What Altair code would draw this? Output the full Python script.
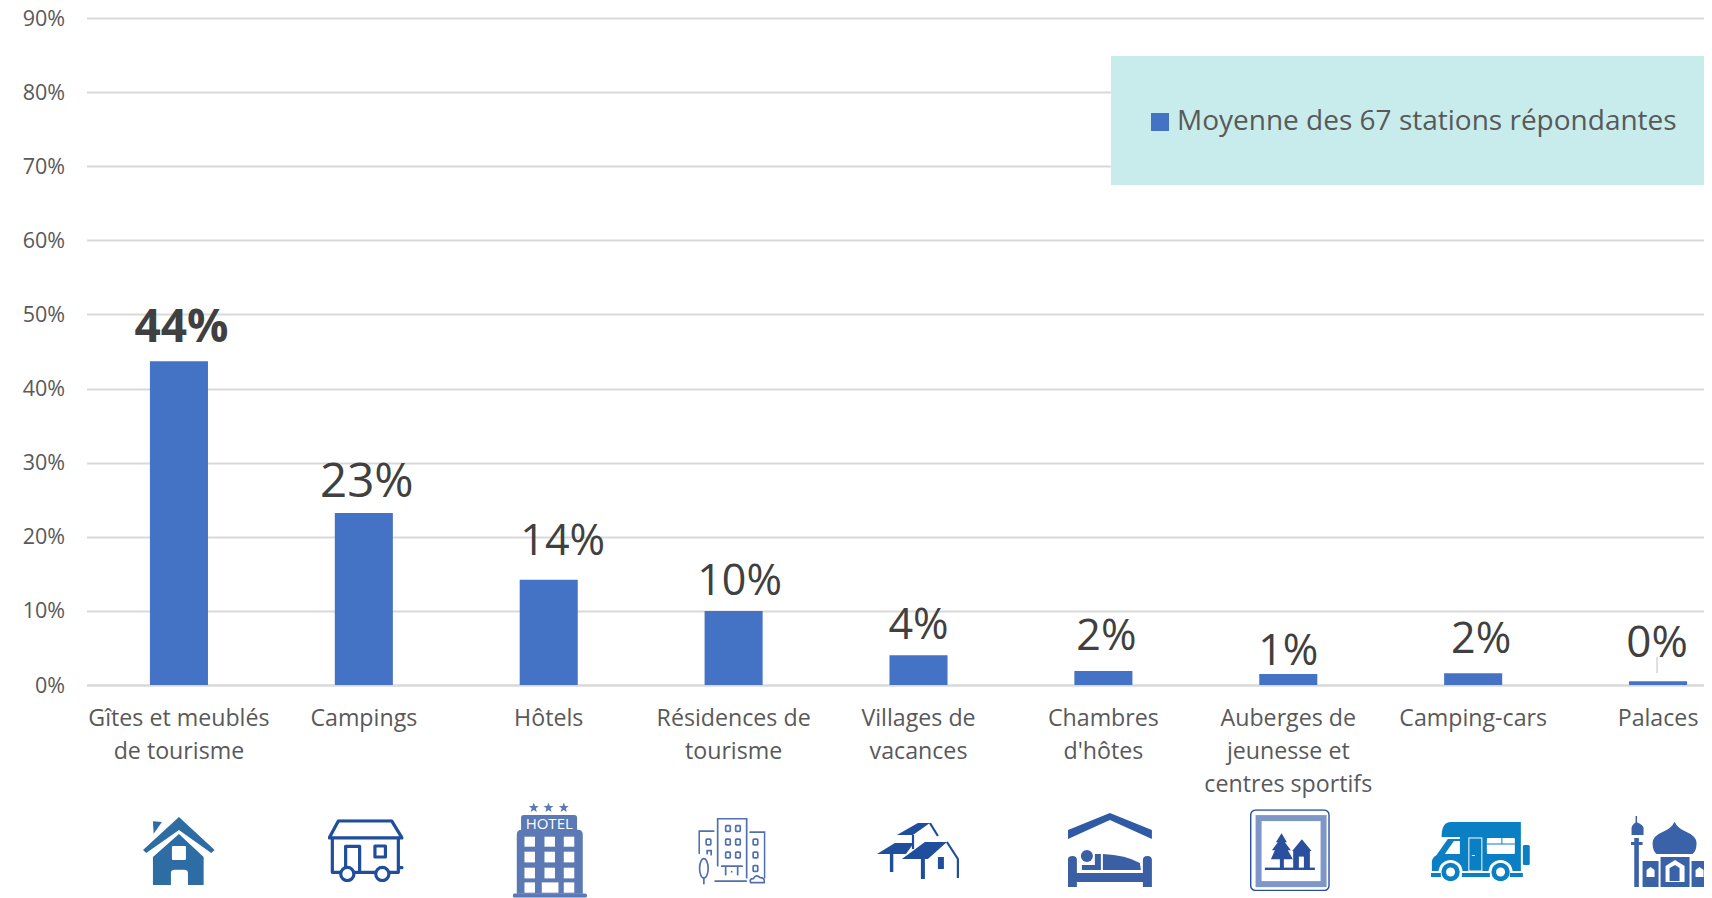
import base64
import math
import altair as alt
import pandas as pd

categories = ["Gîtes et meublés\nde tourisme", "Campings", "Hôtels", "Résidences de\ntourisme",
              "Villages de\nvacances", "Chambres\nd'hôtes", "Auberges de\njeunesse et\ncentres sportifs",
              "Camping-cars", "Palaces"]
values = [0.437, 0.232, 0.142, 0.100, 0.040, 0.019, 0.015, 0.016, 0.005]
value_labels = ["44%", "23%", "14%", "10%", "4%", "2%", "1%", "2%", "0%"]
label_dx = [2.5, 3, 14, 6, 0, 3, 0, 8, -1]
label_dy = [-33, -30, -38, -29, -29, -34, -22, -33, -37]
label_sizes = [46, 47.5, 43, 43, 43, 43, 43, 43, 44]
label_weights = ["bold"] + ["normal"] * 8
series_name = "Moyenne des 67 stations répondantes"
y_ticks = [0, 0.1, 0.2, 0.3, 0.4, 0.5, 0.6, 0.7, 0.8, 0.9]
leader_low = 0.016
leader_high = 0.038

FONT = "Open Sans"
GRID = "#d9d9d9"


def svg(w, h, body):
    s = f'<svg xmlns="http://www.w3.org/2000/svg" width="{w}" height="{h}" viewBox="0 0 {w} {h}">{body}</svg>'
    return "data:image/svg+xml;base64," + base64.b64encode(s.encode()).decode()


house = svg(72, 68, """
<g fill="#2e6da4">
<polygon points="10,4.3 19,5 10.7,16.7"/>
<polygon points="36,0 71.7,33 68.3,36 36,13 3.3,36 0,33"/>
<path d="M10,40 L36,17 L60.7,40 V68 H45 V56 Q45,52.7 41,52.7 H32 Q28,52.7 28,56 V68 H10 Z"/></g>
<rect x="29" y="29" width="14" height="14" rx="1" fill="#fff"/>""")

caravan = svg(76, 63, """
<g fill="none" stroke="#1f4e9c" stroke-width="3.2" stroke-linejoin="round" stroke-linecap="round">
<path d="M10.7,1.6 H64 L74.4,18.6 H1.6 Z"/>
<path d="M4.7,19 V53 H13 M26,53 H47.5 M62,53 H70.7 V19"/>
<path d="M18,48 V27 H32 V52"/>
<rect x="47.3" y="26.7" width="10.5" height="11"/>
<circle cx="19.7" cy="54.7" r="6.6"/><circle cx="54.7" cy="54.7" r="6.6"/>
<path d="M71,48.3 H74.5"/></g>""")


def star(cx, cy, r=5.2):
    pts = []
    for i in range(10):
        a = -math.pi / 2 + i * math.pi / 5
        q = r if i % 2 == 0 else r * 0.42
        pts.append(f"{cx + q * math.cos(a):.2f},{cy + q * math.sin(a):.2f}")
    return f'<polygon points="{" ".join(pts)}" fill="#5b79b4"/>'


hotel_rows = [(34, 10), (49, 10.7), (65, 10.7), (79.7, 10.3)]
hotel_windows = "".join(
    f'<rect x="{x}" y="{y}" width="{10.5}" height="{h}" fill="#fff"/>'
    for y, h in hotel_rows[:3] for x in (11.7, 31.7, 51))
hotel_windows += ('<rect x="11.7" y="79.7" width="10.5" height="10.3" fill="#fff"/>'
                  '<rect x="29" y="79.7" width="16.7" height="10.3" fill="#fff"/>'
                  '<rect x="51" y="79.7" width="10.5" height="10.3" fill="#fff"/>')
hotel = svg(74.3, 95, star(21, 5) + star(35.7, 5) + star(51, 5) + """
<path d="M8.3,28 V15 Q8.3,12.3 11,12.3 H61.6 Q64.3,12.3 64.3,15 V28 Z" fill="#5b79b4"/>
<path d="M4,91 V32 Q4,27 9,27 H65 Q70,27 70,32 V91 Z" fill="#5b79b4"/>
<rect x="0" y="90.7" width="74.3" height="4.3" rx="2" fill="#5b79b4"/>""" + hotel_windows)

res_windows = "".join(
    f'<rect x="{x}" y="{y}" width="4.6" height="5.6" rx="0.8"/>'
    for x, y in ((27.5, 8), (37.5, 8), (27.5, 21.5), (37.5, 21.5), (27.5, 34.5), (37.5, 34.5),
                 (8, 21.5), (55, 21.5), (55, 34.5), (55, 48)))
residence = svg(67.5, 67, f"""
<g fill="none" stroke="#5070b0" stroke-width="1.7" stroke-linecap="round">
<path d="M19.5,48 V1 H48.5 V60"/>
<path d="M15.5,13.5 H1 V35.5 M52,14.5 H66.5 V60"/>
<path d="M9,36 V33 H13 V37"/>
<path d="M23.5,48.5 H44 M27.5,48.5 V57 M39.5,48.5 V57"/>
<path d="M17,63.5 H48"/>
<ellipse cx="5.7" cy="50.7" rx="4.3" ry="9.7"/><path d="M5.7,60 V66"/>
<path d="M52.5,65 Q51,61 55,61 Q58,56 62,60 Q67,60 66,65 Z"/>
{res_windows}</g><circle cx="33.5" cy="54" r="0.9" fill="#5070b0"/>""")

village = svg(82, 56, """
<g fill="#1f4e9c">
<polygon points="20,12 41,0 53,0 36,12"/>
<polygon points="0,31 18,20 37,20 29,31"/>
<rect x="13" y="28" width="3.4" height="21"/>
<polygon points="25,36 48,19 70,19 51,36"/>
<rect x="44" y="36" width="4" height="20"/>
<rect x="61" y="34" width="6" height="12"/>
<rect x="35" y="12" width="2.2" height="14"/></g>
<path d="M53,0 L61,13 M70,19 L81,36 V55" fill="none" stroke="#1f4e9c" stroke-width="2.2"/>""")

bed = svg(84, 75, """
<polygon points="0,17 42,0 84,17 84,26 42,7 0,26" fill="#2f5aa5"/>
<g fill="#3a5fa5">
<path d="M0,74 V47 Q0,43 4.5,43 Q9,43 9,47 V60 H75 V47 Q75,43 79.5,43 Q84,43 84,47 V74 H75 V69 H9 V74 Z"/>
<circle cx="19" cy="43" r="6"/>
<polygon points="14,52 27,52 27,41 33,41 33,57 14,57"/>
<path d="M35,41 Q58,42 72,50 L73,57 H35 Z"/></g>""")

sign = svg(80, 82, """
<rect x="0.8" y="0.8" width="78.4" height="80.4" rx="5" fill="#fff" stroke="#2a4f9f" stroke-width="1.5"/>
<rect x="8.7" y="8.8" width="65" height="66" fill="none" stroke="#7e97c8" stroke-width="6"/>
<g fill="#2a4f9f">
<polygon points="31.7,24 37,33 35,33 41,41 38,41 43,50 34,50 34,59 30,59 30,50 21,50 25,41 22,41 28,33 26,33"/>
<polygon points="52,30 61.7,41.7 60,41.7 60,59 43.3,59 43.3,41.7 42.3,41.7"/>
<rect x="15" y="58.3" width="50" height="2.4"/></g>
<rect x="49" y="47.3" width="5" height="11" fill="#fff"/>""")

camper = svg(99, 59, """
<g fill="#0a7fc4">
<path d="M10.7,15 Q10.7,0 20,0 H90 V49 H1 V40 Q1,36 5.7,33 L17,17 H29 V15 Z"/>
<rect x="92" y="23" width="7" height="20" rx="1.5"/></g>
<polygon points="14,32 23,19 29,19 29,32" fill="#fff"/>
<rect x="38" y="16" width="13" height="33" fill="none" stroke="#fff" stroke-width="1"/>
<rect x="41" y="33" width="3" height="1" fill="#fff"/>
<rect x="56" y="16" width="28" height="16" rx="1" fill="#fff"/>
<rect x="70.5" y="16" width="1" height="6" fill="#0a7fc4"/><rect x="56" y="21.5" width="28" height="1" fill="#0a7fc4"/>
<circle cx="19.7" cy="50" r="12" fill="#fff"/><circle cx="69.7" cy="50" r="12" fill="#fff"/>
<rect x="0" y="49" width="99" height="10" fill="#fff"/>
<circle cx="19.7" cy="50" r="9.2" fill="#0a7fc4"/><circle cx="69.7" cy="50" r="9.2" fill="#0a7fc4"/>
<circle cx="19.7" cy="50" r="4.5" fill="#fff"/><circle cx="69.7" cy="50" r="4.5" fill="#fff"/>
<g fill="#0a7fc4"><rect x="0" y="51" width="10" height="4"/><rect x="31" y="51" width="28" height="4"/><rect x="79" y="51" width="13" height="4"/></g>""")

palace = svg(88, 71, """
<g fill="#3a62a8">
<path d="M44,5.7 Q47,12 54,15 Q66,20 66,27 Q66,35 62,38 H26 Q22,35 22,27 Q22,20 34,15 Q41,12 44,5.7 Z"/>
<rect x="5" y="0" width="1.5" height="8"/><path d="M1,19 V12 Q1,9 5.7,6 Q13,9 13,12 V19 Z"/>
<rect x="3.7" y="22" width="4.6" height="49"/><rect x="0" y="26" width="12" height="3"/>
<rect x="81.5" y="0" width="1.5" height="8"/><path d="M75,19 V12 Q75,9 82.3,6 Q87,9 87,12 V19 Z"/>
<rect x="79.7" y="22" width="4.6" height="49"/><rect x="76" y="26" width="12" height="3"/>
<rect x="30" y="41" width="29" height="30"/>
<rect x="12" y="45" width="16" height="26"/><rect x="61" y="45" width="16" height="26"/></g>
<g fill="#fff">
<path d="M16,61 V54 L20,51 L24,54 V61 Z"/><path d="M65,61 V54 L69,51 L73,54 V61 Z"/>
<path d="M35,66 V50 L44.5,44 L54,50 V66 Z"/></g>
<path d="M39,65 V52 L44.5,49 L49,52 V65 Z" fill="#3a62a8"/>""")

icons = [house, caravan, hotel, residence, village, bed, sign, camper, palace]
icon_w = [72, 76, 74.3, 67.5, 82, 84, 80, 99, 88]
icon_h = [68, 63, 95, 67, 56, 75, 82, 59, 71]
icon_cx = [179, 365.7, 550, 732, 918, 1110, 1290, 1480.5, 1674.7]
icon_top = [817, 819.3, 802.7, 817.7, 823, 813, 809.3, 822, 816]
band_cx = [179 + 184.9 * i for i in range(9)]
icon_dx = [c - b for c, b in zip(icon_cx, band_cx)]

PLOT_LEFT, PLOT_TOP = 86.5, 18

df = pd.DataFrame({"cat": categories, "v": values, "lab": value_labels, "series": series_name,
                   "icon": icons})

x_enc = alt.X("cat:N", sort=categories, title=None,
              scale=alt.Scale(paddingInner=0.686, paddingOuter=0.343, range=[0, 1664]),
              axis=alt.Axis(labelExpr="split(datum.label, '\\n')", labelAngle=0, labelFont=FONT,
                            labelFontSize=23.2, labelColor="#595959", labelPadding=22, labelLineHeight=33,
                            labelBaseline="top", labelLimit=400, labelOverlap=False, ticks=False,
                            domainColor=GRID, domainWidth=2, grid=False))
y_enc = alt.Y("v:Q", title=None, scale=alt.Scale(domain=[0, 0.9]),
              axis=alt.Axis(values=y_ticks, format=".0%", labelFont=FONT, labelFontSize=21.5,
                            labelColor="#595959", labelPadding=22, labelOffset=1, ticks=False, domain=False,
                            gridColor=GRID, gridWidth=2, grid=True))

base = alt.Chart(df)

# legend background
box = alt.Chart(df.head(1)).mark_rect(color="#c8ecec").encode(
    x=alt.value(1111 - PLOT_LEFT), x2=alt.value(1705 - PLOT_LEFT),
    y=alt.value(56 - PLOT_TOP), y2=alt.value(185 - PLOT_TOP))

bars = base.mark_bar().encode(
    x=x_enc, y=y_enc,
    color=alt.Color("series:N", scale=alt.Scale(range=["#4472c4"]), title=None,
                    legend=alt.Legend(orient="none", legendX=1151 - PLOT_LEFT - 5, legendY=108 - PLOT_TOP,
                                      symbolType="square", symbolSize=324, symbolStrokeWidth=0,
                                      labelFont=FONT, labelFontSize=28, labelColor="#595959",
                                      labelOffset=3, labelLimit=700, padding=0)))

leader_df = pd.DataFrame({"cat": [categories[-1]], "lo": [leader_low], "hi": [leader_high]})
leader = alt.Chart(leader_df).mark_rule(color="#bfbfbf", size=1, xOffset=-1).encode(
    x=alt.X("cat:N", sort=categories), y=alt.Y("lo:Q"), y2="hi:Q")

layers = [box, bars, leader]

for i in range(len(categories)):
    row = df.iloc[[i]]
    layers.append(alt.Chart(row).mark_text(
        font=FONT, fontSize=label_sizes[i], fontWeight=label_weights[i], color="#404040",
        baseline="middle", xOffset=label_dx[i], yOffset=label_dy[i]).encode(
        x=alt.X("cat:N", sort=categories), y=alt.Y("v:Q"), text="lab:N"))
    layers.append(alt.Chart(row).mark_image(
        width=icon_w[i], height=icon_h[i], xOffset=icon_dx[i], clip=False).encode(
        x=alt.X("cat:N", sort=categories),
        y=alt.value(icon_top[i] + icon_h[i] / 2 - PLOT_TOP),
        url="icon:N"))

hotel_text = alt.Chart(df.iloc[[2]]).mark_text(
    font=FONT, fontSize=15, color="#ffffff", xOffset=0.5, baseline="middle").encode(
    x=alt.X("cat:N", sort=categories), y=alt.value(824 - PLOT_TOP), text=alt.value("HOTEL"))
layers.append(hotel_text)

chart = alt.layer(*layers).properties(
    width=1617.5, height=667,
    padding={"left": 78.5, "top": 10, "right": 0, "bottom": 213},
    autosize=alt.AutoSizeParams(type="none"),
    background="#ffffff",
).configure_view(stroke=None).resolve_scale(x="shared", y="shared")

chart.save("out.html", embed_options={"renderer": "svg", "actions": False})
